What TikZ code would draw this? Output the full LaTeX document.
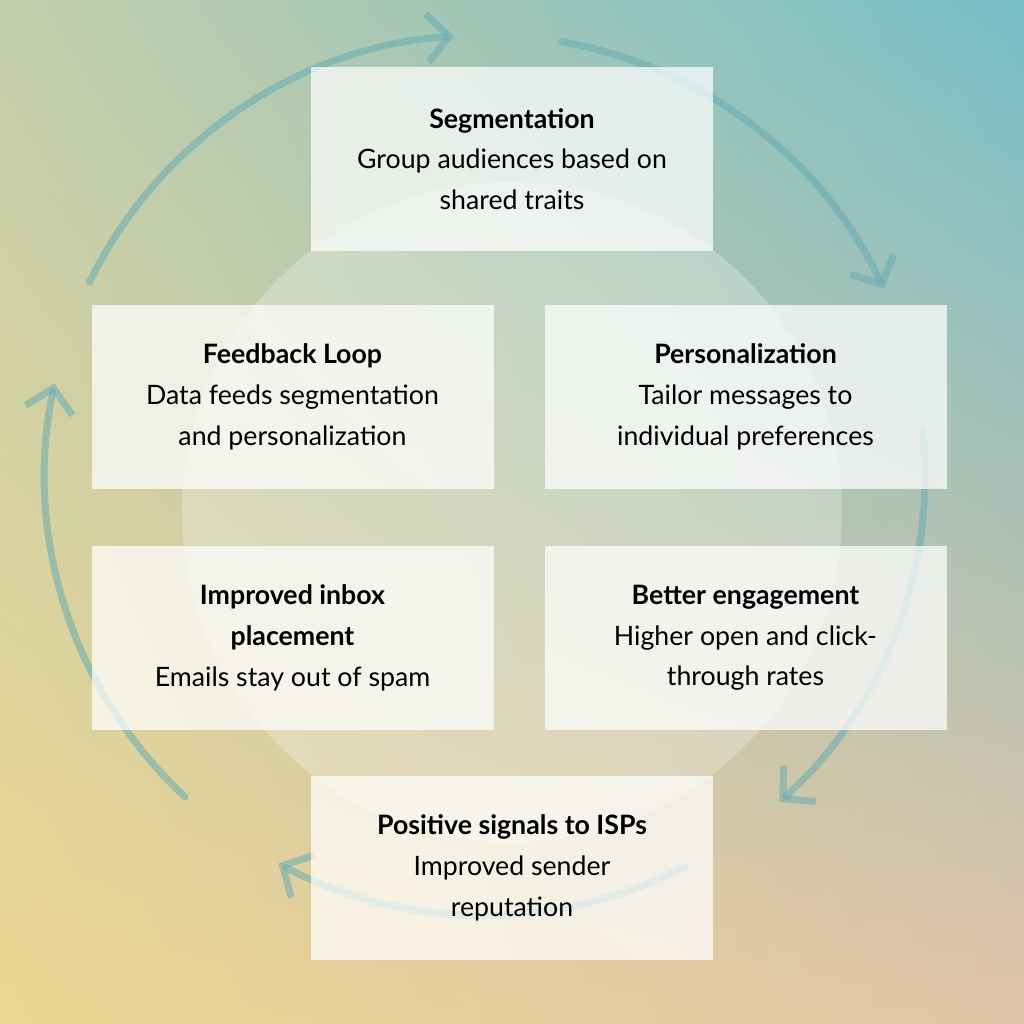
\documentclass[tikz,border=0pt]{standalone}
\usepackage{fontspec}
\setmainfont{Lato}
\usetikzlibrary{arrows.meta,shadings}
\definecolor{tealarc}{RGB}{104,172,178}
\definecolor{bgtl}{RGB}{196,206,172}
\definecolor{bgtr}{RGB}{118,190,198}
\definecolor{bgbl}{RGB}{236,214,146}
\definecolor{bgbr}{RGB}{226,196,168}
\begin{document}
\begin{tikzpicture}[x=0.025cm,y=0.025cm,
    stagebox/.style={fill=white,fill opacity=0.72,text opacity=1,
      minimum width=402*0.025cm,minimum height=184*0.025cm,
      align=center,font=\fontsize{19}{29}\selectfont},
    looparc/.style={draw=tealarc,draw opacity=0.55,line width=5pt,line cap=round,
      -{Straight Barb[length=16pt,width=34pt,line width=5pt]}}]

    % background
    \shade[upper left=bgtl,upper right=bgtr,lower left=bgbl,lower right=bgbr]
      (0,0) rectangle (1024,1024);
    \fill[white,opacity=0.25] (512,512) circle[radius=330];
    \useasboundingbox (0,0) rectangle (1024,1024);

    % loop arcs
    \draw[looparc] (485,549) ++(154:440) arc[start angle=154,end angle=94,radius=440];
    \draw[looparc] (485,549) ++(80:440) arc[start angle=80,end angle=25,radius=440];
    \draw[looparc] (485,549) ++(6:440) arc[start angle=6,end angle=-48,radius=440];
    \draw[looparc] (485,549) ++(-63:440) arc[start angle=-63,end angle=-118,radius=440];
    \draw[looparc] (485,549) ++(227:440) arc[start angle=227,end angle=168,radius=440];

    % stages
    \node[stagebox] (seg) at (512,865)
      {\textbf{Segmentation}\\Group audiences based on\\shared traits};
    \node[stagebox] (feed) at (292.5,627)
      {\textbf{Feedback Loop}\\Data feeds segmentation\\and personalization};
    \node[stagebox] (pers) at (745.5,627)
      {\textbf{Personalization}\\Tailor messages to\\individual preferences};
    \node[stagebox] (inbox) at (292.5,386)
      {\textbf{Improved inbox}\\\textbf{placement}\\Emails stay out of spam};
    \node[stagebox] (eng) at (745.5,386)
      {\textbf{Better engagement}\\Higher open and click-\\through rates};
    \node[stagebox] (isp) at (512,156)
      {\textbf{Positive signals to ISPs}\\Improved sender\\reputation};

\end{tikzpicture}
\end{document}
